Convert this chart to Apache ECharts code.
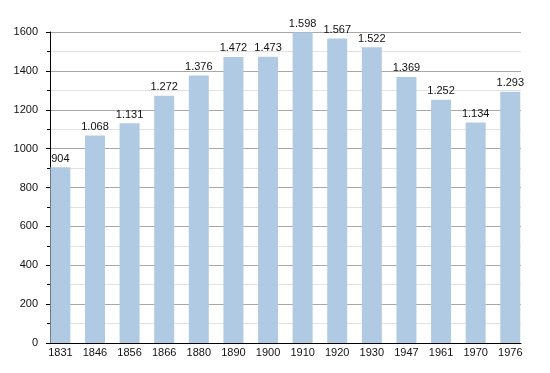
<!DOCTYPE html>
<html><head><meta charset="utf-8">
<script src="https://cdn.jsdelivr.net/npm/echarts@6/dist/echarts.min.js"></script>
<style>html,body{margin:0;padding:0;background:#fff}#c{width:550px;height:373px}</style>
</head><body><div id="c"></div>
<script>
const categories = ['1831','1846','1856','1866','1880','1890','1900','1910','1920','1930','1947','1961','1970','1976'];
const population = [904,1068,1131,1272,1376,1472,1473,1598,1567,1522,1369,1252,1134,1293];
const yTicks = [0,200,400,600,800,1000,1200,1400,1600];

function fmt(v){ return String(v).replace(/\B(?=(\d{3})+(?!\d))/g,'.'); }

const chart = echarts.init(document.getElementById('c'), null, {renderer:'canvas'});
const font = 'Liberation Sans, Arial, Helvetica, sans-serif';
chart.setOption({
  animation:false,
  grid:{left:50,right:29,top:32,bottom:30,containLabel:false},
  xAxis:{
    type:'value', min:-0.3, max:13.31,
    axisLine:{show:true,onZero:false,lineStyle:{color:'#000',width:1}},
    axisTick:{show:false},
    splitLine:{show:false},
    axisLabel:{
      customValues: categories.map((c,i)=>i),
      formatter:(v)=>categories[Math.round(v)],
      color:'#111', fontFamily:font, fontSize:11, margin:4
    }
  },
  yAxis:{
    type:'value', min:yTicks[0], max:yTicks[yTicks.length-1], interval:200,
    axisLine:{show:true,onZero:false,lineStyle:{color:'#000',width:1}},
    axisTick:{show:true,inside:false,length:4,lineStyle:{color:'#000'}},
    minorTick:{show:true,splitNumber:2,length:3,lineStyle:{color:'#000'}},
    splitLine:{show:true,lineStyle:{color:'#a8a8a8',width:1}},
    minorSplitLine:{show:true,lineStyle:{color:'#e2e2e2',width:1}},
    axisLabel:{color:'#111',fontFamily:font,fontSize:11,margin:12,formatter:(v)=>String(v)}
  },
  series:[{
    type:'bar',
    data: population.map((v,i)=>[i,v]),
    barWidth:20,
    itemStyle:{color:'#b0cae4'},
    label:{show:true,position:'top',distance:3,color:'#111',fontFamily:font,fontSize:11,
      formatter:(p)=>fmt(p.value[1])},
    emphasis:{disabled:true}
  }]
});
</script></body></html>
